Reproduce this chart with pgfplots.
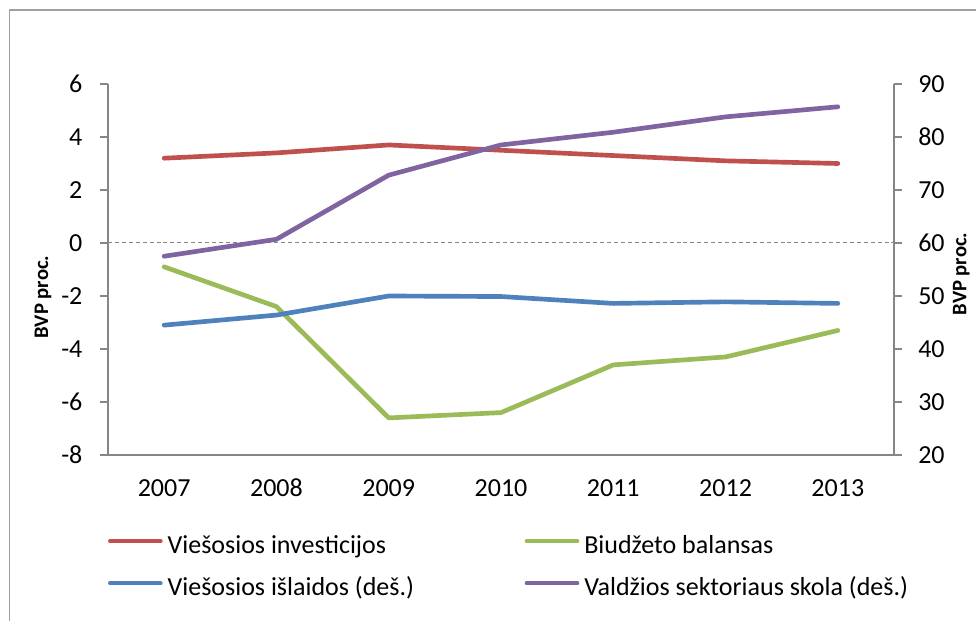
\documentclass[border=0pt]{standalone}
\usepackage{pgfplots}
\pgfplotsset{compat=1.18}
\usepackage{fontspec}
\setmainfont{Carlito}
\definecolor{cred}{HTML}{C0504D}
\definecolor{cgreen}{HTML}{9BBB59}
\definecolor{cblue}{HTML}{4F81BD}
\definecolor{cpurple}{HTML}{8064A2}
\definecolor{axgray}{HTML}{868686}
\definecolor{framegray}{HTML}{A0A0A0}
\begin{document}
\begin{tikzpicture}
\path[use as bounding box] (0,0) rectangle (732pt,-465.75pt);
\draw[framegray, line width=1pt] (7.1pt,-480pt) -- (7.1pt,-7.5pt) -- (745pt,-7.5pt);
\pgfplotsset{
  common/.style={
    width=589.5pt, height=278.25pt, scale only axis,
    at={(81pt,-63pt)}, anchor=north west,
    xmin=-0.5, xmax=6.5,
    axis line style={axgray, line width=0.9pt},
    tick style={axgray, line width=0.9pt},
    major tick length=6pt,
    tick align=outside,
    /pgf/number format/assume math mode=true,
    tick label style={font=\fontsize{19.5}{23}\selectfont},
    label style={font=\fontsize{15.5}{18}\selectfont\bfseries},
    clip=false,
  }
}
\begin{axis}[common,
  axis y line*=left, axis x line*=bottom,
  ymin=-8, ymax=6, ytick={-8,-6,...,6},
  xtick={0,...,6}, xticklabels={2007,2008,2009,2010,2011,2012,2013},
  xtick style={draw=none},
  xticklabel style={inner sep=0pt, anchor=base, yshift=-25.5pt},
  yticklabel style={inner sep=0pt, xshift=-13pt},
  ylabel={BVP proc.},
  ylabel style={at={(axis description cs:-0.0827,0.426)}, anchor=center},
]
\addplot[axgray, line width=0.75pt, dash pattern=on 3pt off 2.2pt, forget plot] coordinates {(-0.5,0) (6.5,0)};
\addplot[cred, line width=3.5pt, line cap=round, line join=round] coordinates {
(0,3.2) (1,3.4) (2,3.7) (3,3.5) (4,3.3) (5,3.1) (6,3.0)};
\addplot[cgreen, line width=3.5pt, line cap=round, line join=round] coordinates {
(0,-0.9) (1,-2.4) (2,-6.6) (3,-6.4) (4,-4.6) (5,-4.3) (6,-3.3)};
\end{axis}
\begin{axis}[common,
  axis y line*=right, axis x line=none,
  ymin=20, ymax=90, ytick={20,30,...,90},
  yticklabel style={inner sep=0pt, xshift=12pt},
  ylabel={BVP proc.},
  ylabel style={at={(axis description cs:1.0855,0.488)}, anchor=center, inner sep=0pt},
  legend columns=2,
  legend cell align=left,
  legend style={draw=none, fill=none, inner sep=0pt, outer sep=0pt,
    at={(axis description cs:0,0)}, anchor=north west, yshift=-60pt,
    font=\fontsize{19.5}{23}\selectfont, row sep=16.25pt,
    nodes={inner sep=0pt},
    /tikz/every odd column/.append style={column sep=3.75pt}},
  legend image code/.code={\draw[#1, line width=3pt, line cap=round] (1.5pt,0.3em) -- (39.5pt,0.3em);},
]
\addlegendimage{cred}
\addlegendentry{\makebox[267.75pt][l]{Viešosios investicijos}}
\addlegendimage{cgreen}
\addlegendentry{Biudžeto balansas}
\addplot[cblue, line width=3.5pt, line cap=round, line join=round] coordinates {
(0,44.5) (1,46.4) (2,50.0) (3,49.9) (4,48.6) (5,48.9) (6,48.6)};
\addlegendentry{\makebox[267.75pt][l]{Viešosios išlaidos (deš.)}}
\addplot[cpurple, line width=3.5pt, line cap=round, line join=round] coordinates {
(0,57.5) (1,60.7) (2,72.8) (3,78.5) (4,80.9) (5,83.8) (6,85.7)};
\addlegendentry{Valdžios sektoriaus skola (deš.)}
\end{axis}
\end{tikzpicture}
\end{document}
